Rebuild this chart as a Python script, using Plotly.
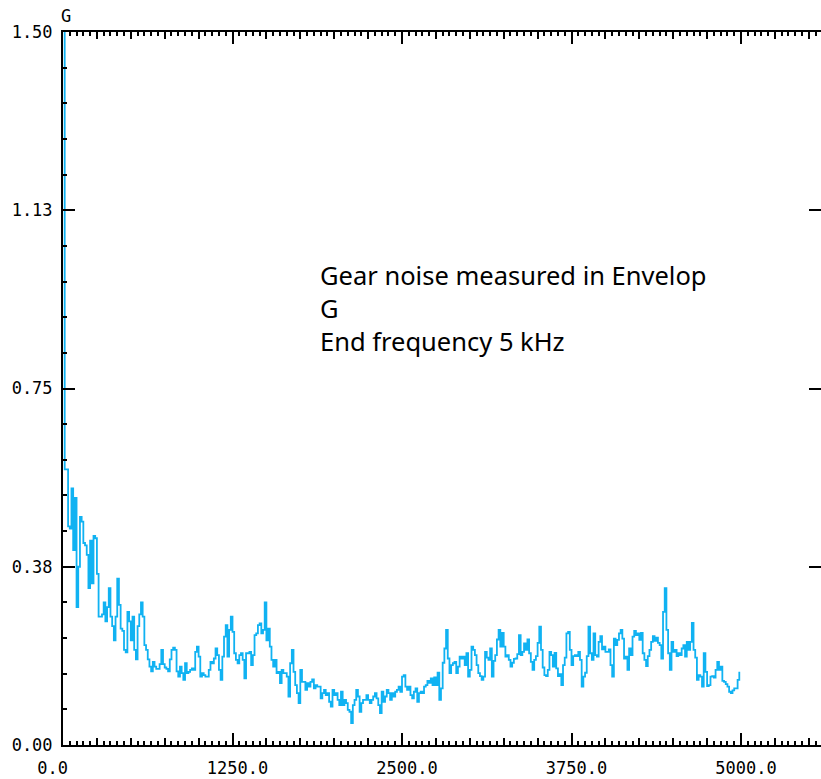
import plotly.graph_objects as go

# ---- data -------------------------------------------------------------
line_spacing_hz = 12.5          # FFT line resolution (Hz)

amp_0000_0837 = [
    1.62, 0.58, 0.58, 0.46, 0.455, 0.54, 0.41, 0.52, 0.29, 0.375,
    0.48, 0.47, 0.425, 0.42, 0.40, 0.33, 0.43, 0.34, 0.44, 0.435,
    0.36, 0.27, 0.27, 0.275, 0.30, 0.26, 0.29, 0.33, 0.27, 0.25,
    0.22, 0.27, 0.35, 0.295, 0.245, 0.24, 0.20, 0.195, 0.28, 0.26,
    0.22, 0.27, 0.20, 0.18, 0.25, 0.275, 0.30, 0.27, 0.21, 0.20,
    0.18, 0.165, 0.155, 0.175, 0.165, 0.16, 0.16, 0.17, 0.20, 0.17,
    0.163, 0.16, 0.155, 0.18, 0.20, 0.205, 0.20, 0.155,
]
amp_0850_1700 = [
    0.144, 0.165, 0.151, 0.137, 0.172, 0.151, 0.154, 0.158, 0.161, 0.158,
    0.196, 0.207, 0.186, 0.144, 0.151, 0.147, 0.144, 0.144, 0.158, 0.175,
    0.172, 0.182, 0.203, 0.189, 0.158, 0.137, 0.186, 0.228, 0.252, 0.186,
    0.242, 0.270, 0.238, 0.193, 0.179, 0.172, 0.189, 0.193, 0.179, 0.140,
    0.193, 0.193, 0.196, 0.168, 0.189, 0.231, 0.235, 0.252, 0.256, 0.235,
    0.242, 0.300, 0.220, 0.245, 0.207, 0.179, 0.165, 0.179, 0.151, 0.154,
    0.130, 0.158, 0.151, 0.151, 0.144, 0.102, 0.172, 0.200, 0.154,
]
amp_1712_2550 = [
    0.126, 0.109, 0.088, 0.158, 0.133, 0.133, 0.116, 0.130, 0.123, 0.133,
    0.138, 0.119, 0.126, 0.123, 0.123, 0.098, 0.109, 0.116, 0.105, 0.109,
    0.091, 0.081, 0.116, 0.105, 0.109, 0.095, 0.084, 0.112, 0.084, 0.095,
    0.088, 0.074, 0.070, 0.046, 0.084, 0.095, 0.116, 0.102, 0.070, 0.088,
    0.095, 0.095, 0.105, 0.095, 0.088, 0.095, 0.102, 0.109, 0.098, 0.084,
    0.067, 0.112, 0.091, 0.102, 0.116, 0.109, 0.095, 0.109, 0.102, 0.112,
    0.116, 0.123, 0.112, 0.144, 0.147, 0.123, 0.116, 0.123,
]
amp_2562_3387 = [
    0.105, 0.098, 0.112, 0.119, 0.091, 0.109, 0.112, 0.109, 0.123, 0.126,
    0.135, 0.131, 0.140, 0.126, 0.142, 0.126, 0.152, 0.095, 0.119, 0.173,
    0.203, 0.242, 0.182, 0.151, 0.168, 0.172, 0.175, 0.151, 0.165, 0.186,
    0.182, 0.186, 0.168, 0.193, 0.144, 0.158, 0.207, 0.200, 0.189, 0.168,
    0.151, 0.145, 0.137, 0.144, 0.196, 0.184, 0.179, 0.203, 0.144, 0.177,
    0.189, 0.222, 0.242, 0.207, 0.236, 0.207, 0.186, 0.189, 0.179, 0.165,
    0.173, 0.181, 0.182, 0.191, 0.231, 0.189, 0.196,
]
amp_3400_4237 = [
    0.214, 0.200, 0.222, 0.193, 0.175, 0.158, 0.179, 0.187, 0.215, 0.249,
    0.200, 0.163, 0.147, 0.145, 0.158, 0.196, 0.189, 0.165, 0.194, 0.161,
    0.145, 0.149, 0.126, 0.168, 0.184, 0.235, 0.238, 0.200, 0.168, 0.187,
    0.189, 0.187, 0.196, 0.179, 0.123, 0.144, 0.152, 0.187, 0.249, 0.193,
    0.179, 0.235, 0.189, 0.186, 0.217, 0.229, 0.201, 0.207, 0.196, 0.196,
    0.201, 0.168, 0.144, 0.224, 0.210, 0.221, 0.235, 0.242, 0.224, 0.182,
    0.186, 0.158, 0.203, 0.189, 0.228, 0.240, 0.231, 0.235,
]
amp_4250_4987 = [
    0.221, 0.236, 0.193, 0.179, 0.166, 0.187, 0.200, 0.217, 0.229, 0.219,
    0.226, 0.215, 0.210, 0.182, 0.280, 0.330, 0.242, 0.193, 0.158, 0.217,
    0.196, 0.200, 0.187, 0.193, 0.189, 0.203, 0.210, 0.186, 0.217, 0.200,
    0.217, 0.257, 0.200, 0.184, 0.137, 0.147, 0.144, 0.123, 0.193, 0.154,
    0.124, 0.126, 0.144, 0.145, 0.142, 0.158, 0.175, 0.158, 0.165, 0.135,
    0.133, 0.128, 0.123, 0.112, 0.109, 0.115, 0.119, 0.119, 0.137, 0.154,
]

amplitude_g = (amp_0000_0837 + amp_0850_1700 + amp_1712_2550 +
               amp_2562_3387 + amp_3400_4237 + amp_4250_4987)
frequency_hz = [i * line_spacing_hz for i in range(len(amplitude_g))]

x_tick_vals = [0, 1250, 2500, 3750, 5000]
x_tick_text = ["0.0\u00a0\u00a0\u00a0", "1250.0", "2500.0", "3750.0", "5000.0"]
y_tick_vals = [0.0, 0.375, 0.75, 1.125, 1.5]
y_tick_text = ["0.00", "0.38", "0.75", "1.13", "1.50"]
x_range = [0, 5590]
y_range = [0, 1.5]
y_unit = "G"
note_lines = ["Gear noise measured in Envelop", "G", "End frequency 5 kHz"]

# ---- figure -------------------------------------------------------------
LINE_COLOR = "#10B2F2"
TICK_FONT = dict(family="DejaVu Sans Mono", size=17, color="black")

fig = go.Figure()
fig.add_trace(go.Scatter(x=frequency_hz, y=amplitude_g, mode="lines",
                         line=dict(color=LINE_COLOR, width=1.8, shape="hv"),
                         hoverinfo="skip", showlegend=False))
# helper (empty) traces so overlay axes are drawn
for xa, ya in [("x2", "y2"), ("x3", "y"), ("x4", "y")]:
    fig.add_trace(go.Scatter(x=[None], y=[None], xaxis=xa, yaxis=ya,
                             mode="lines", showlegend=False, hoverinfo="skip"))

common_x = dict(range=x_range, showgrid=False, zeroline=False)
minor_x = dict(ticks="inside", tick0=0, dtick=250, ticklen=7,
               tickwidth=2, tickcolor="black")
fine_x = dict(tickmode="linear", tick0=0, dtick=50, ticks="inside",
              ticklen=4, tickwidth=1.5, tickcolor="black",
              showticklabels=False, showline=False)

fig.update_layout(
    width=821, height=779,
    margin=dict(l=63, r=0, t=32, b=34),
    paper_bgcolor="white", plot_bgcolor="white",
    showlegend=False,
    xaxis=dict(**common_x, tickmode="array", tickvals=x_tick_vals,
               ticktext=x_tick_text, ticks="inside", ticklen=12, tickwidth=2,
               tickcolor="black", minor=minor_x,
               showline=True, linecolor="black", linewidth=2,
               tickfont=TICK_FONT, ticklabelshift=5, ticklabelstandoff=7),
    xaxis2=dict(**common_x, tickmode="linear", tick0=0, dtick=1250,
                ticks="inside", ticklen=12, tickwidth=2, tickcolor="black",
                minor=minor_x, overlaying="x", side="top", anchor="y",
                showline=True, linecolor="black", linewidth=2,
                showticklabels=False),
    xaxis3=dict(**common_x, **fine_x, overlaying="x", side="bottom", anchor="y"),
    xaxis4=dict(**common_x, **fine_x, overlaying="x", side="top", anchor="y"),
    yaxis=dict(range=y_range, showgrid=False, zeroline=False, showline=True,
               linecolor="black", linewidth=2, tickmode="array",
               tickvals=y_tick_vals, ticktext=y_tick_text, ticks="inside",
               ticklen=12, tickwidth=2, tickcolor="black", tickfont=TICK_FONT,
               ticklabelstandoff=5,
               minor=dict(ticks="inside", tick0=0, dtick=0.075, ticklen=4,
                          tickwidth=2, tickcolor="black")),
    yaxis2=dict(range=y_range, overlaying="y", side="right", anchor="x",
                showgrid=False, zeroline=False, showline=False,
                tickmode="array", tickvals=y_tick_vals, ticks="inside",
                ticklen=12, tickwidth=2, tickcolor="black",
                showticklabels=False),
)

fig.add_annotation(text=y_unit, xref="paper", yref="paper", x=0.004, y=1.0225,
                   xanchor="center", yanchor="middle", showarrow=False,
                   font=dict(family="DejaVu Sans Mono", size=17, color="black"))
fig.add_annotation(text="<br>".join(note_lines), xref="x", yref="y",
                   x=1880, y=1.028, xanchor="left", yanchor="top", align="left",
                   showarrow=False,
                   font=dict(family="Noto Sans", size=25.5, color="black"))

fig.write_html("out.html")
